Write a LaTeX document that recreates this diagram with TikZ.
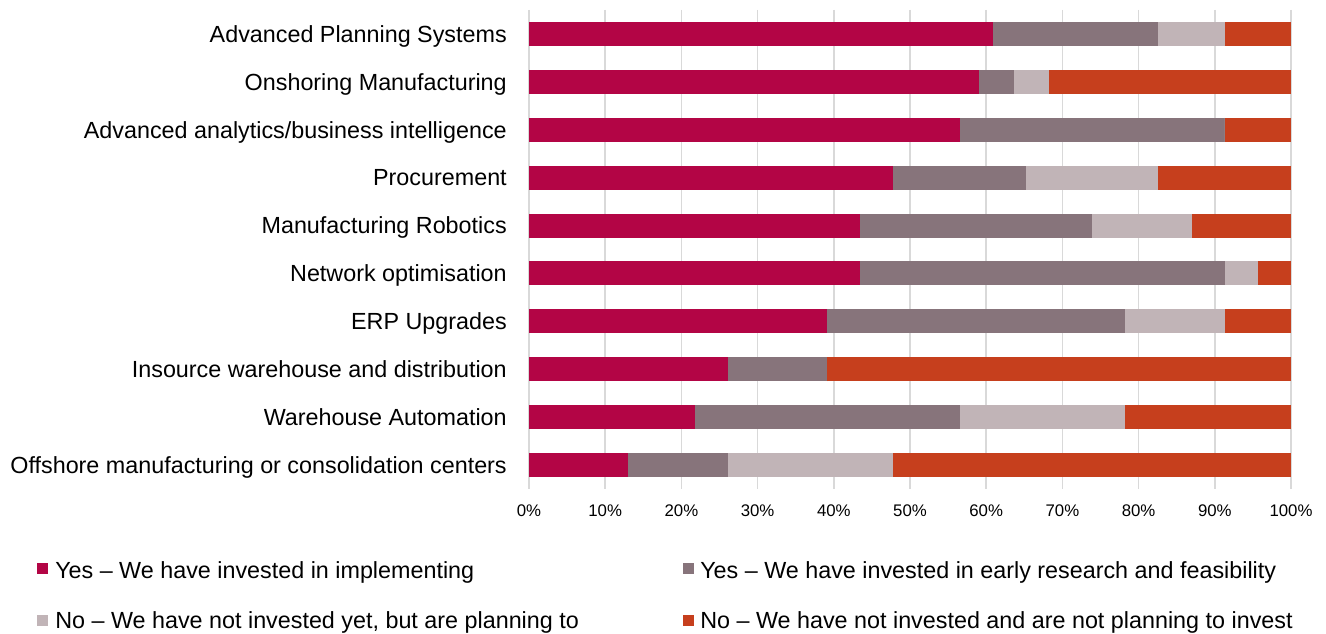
\documentclass[tikz,border=0pt]{standalone}
\usepackage{fontspec}
\setmainfont{Liberation Sans}
\definecolor{cimpl}{HTML}{B30545}
\definecolor{cres}{HTML}{87747B}
\definecolor{cplan}{HTML}{C1B4B7}
\definecolor{cnot}{HTML}{C63F1D}
\definecolor{cgrid}{HTML}{D9D9D9}
\tikzset{
  cat/.style={anchor=base east, inner sep=0pt, font=\fontsize{17.5}{20}\selectfont},
  ticklab/.style={anchor=base, inner sep=0pt, font=\fontsize{12.6}{15}\selectfont},
  leg/.style={anchor=base west, inner sep=0pt, font=\fontsize{17.5}{20}\selectfont},
  gridline/.style={draw=cgrid, line width=1.1pt},
  legbox/.style={minimum size=8.25pt, inner sep=0pt, anchor=center},
}
\newcommand\sbar[6]{%
  \pgfmathsetmacro\yc{34+47.9*#1}%
  \pgfmathsetmacro\xa{529+762*(#3/#6)}%
  \pgfmathsetmacro\xb{529+762*(#4/#6)}%
  \pgfmathsetmacro\xc{529+762*(#5/#6)}%
  \fill[cimpl] (529,{\yc-12}) rectangle (\xa,{\yc+12});
  \fill[cres] (\xa,{\yc-12}) rectangle (\xb,{\yc+12});
  \fill[cplan] (\xb,{\yc-12}) rectangle (\xc,{\yc+12});
  \fill[cnot] (\xc,{\yc-12}) rectangle (1291,{\yc+12});
  \node[cat] (lab#1) at (507,{\yc+8.3}) {#2};
}
\begin{document}
\begin{tikzpicture}[x=0.75pt,y=-0.75pt]
\useasboundingbox (0,0) rectangle (1326,634);
\fill[white] (0,0) rectangle (1326,634);
% grid
\foreach \i in {0,...,10}{
  \pgfmathsetmacro\gx{529+76.2*\i}
  \draw[gridline] (\gx,10) -- (\gx,489);
  \pgfmathtruncatemacro\pc{10*\i}
  \node[ticklab] (tick\i) at (\gx,516) {\pc\%};
}
% bars
\sbar{0}{Advanced Planning Systems}{14}{19}{21}{23}
\sbar{1}{Onshoring Manufacturing}{13}{14}{15}{22}
\sbar{2}{Advanced analytics/business intelligence}{13}{21}{21}{23}
\sbar{3}{Procurement}{11}{15}{19}{23}
\sbar{4}{Manufacturing Robotics}{10}{17}{20}{23}
\sbar{5}{Network optimisation}{10}{21}{22}{23}
\sbar{6}{ERP Upgrades}{9}{18}{21}{23}
\sbar{7}{Insource warehouse and distribution}{6}{9}{9}{23}
\sbar{8}{Warehouse Automation}{5}{13}{18}{23}
\sbar{9}{Offshore manufacturing or consolidation centers}{3}{6}{11}{23}
% legend
\node[legbox, fill=cimpl] (m1) at (42.8,568.8) {};
\node[leg] (l1) at (55,578) {Yes – We have invested in implementing};
\node[legbox, fill=cres] (m2) at (688.8,568.8) {};
\node[leg] (l2) at (700,578) {Yes – We have invested in early research and feasibility};
\node[legbox, fill=cplan] (m3) at (42.8,620.5) {};
\node[leg] (l3) at (55,628.5) {No – We have not invested yet, but are planning to};
\node[legbox, fill=cnot] (m4) at (688.8,620.5) {};
\node[leg] (l4) at (700,628.5) {No – We have not invested and are not planning to invest};
\end{tikzpicture}
\end{document}
